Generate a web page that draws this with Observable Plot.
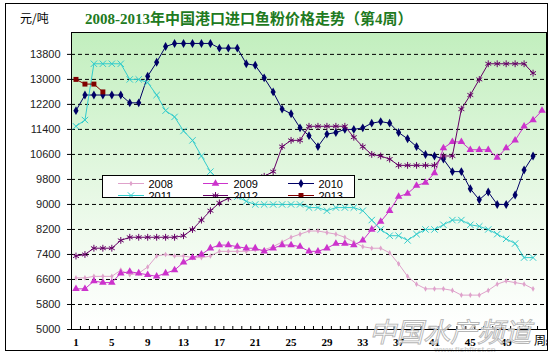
<!DOCTYPE html>
<html><head><meta charset="utf-8">
<script src="https://cdn.jsdelivr.net/npm/d3@7"></script>
<script src="https://cdn.jsdelivr.net/npm/@observablehq/plot@0.6"></script>
<style>
body{margin:0;background:#fff;}
#wrap{position:relative;width:551px;height:358px;overflow:hidden;font-family:"Liberation Sans",Arial,sans-serif;}
#outer{position:absolute;left:5px;top:3px;width:543px;height:348px;border:1px solid #000;pointer-events:none;box-sizing:border-box;}
#unit{position:absolute;left:20px;top:9px;font:12px "Noto Sans CJK SC",sans-serif;color:#000;}
#title{position:absolute;left:85px;top:7px;font:bold 15px "Liberation Serif","Noto Sans CJK SC",serif;color:#217a21;white-space:nowrap;}
#legend{position:absolute;left:102px;top:175px;}
#chart{position:absolute;left:0;top:0;}
</style></head><body>
<div id="wrap">
  <div id="chart"></div>
  <div id="unit">元/吨</div>
  <div id="title">2008-2013年中国港口进口鱼粉价格走势（第4周）</div>
  <svg id="legend" width="254" height="23"></svg>
  <div id="outer"></div>
</div>
<script>
// ---- data ----
const years = ["2008", "2009", "2010", "2011", "2012", "2013"];
const v2008 = [6650,6650,6700,6700,6700,6900,6750,6800,7000,7350,7400,7350,7350,7300,7300,7350,7500,7500,7500,7500,7550,7550,7650,7800,7950,8050,8150,8150,8100,8050,7950,7800,7650,7600,7600,7450,7100,6700,6450,6300,6300,6300,6250,6100,6100,6100,6250,6450,6550,6500,6450,6300];
const v2009 = [6300,6300,6550,6500,6500,6800,6850,6800,6750,6700,6800,6900,7150,7300,7400,7600,7700,7700,7650,7600,7600,7500,7600,7700,7700,7650,7500,7500,7600,7750,7750,7700,7850,8200,8450,8800,9250,9350,9600,9700,10000,10800,11000,11000,10750,10750,10750,10500,10800,11050,11500,11700,12000];
const v2010 = [12000,12500,12500,12500,12500,12500,12250,12250,13100,13550,14050,14150,14150,14150,14150,14150,14000,14000,14000,13500,13450,13050,12600,12050,11900,11450,11200,10850,11250,11300,11400,11400,11450,11600,11650,11600,11300,11100,10850,10600,10550,10450,10050,10050,9500,9150,9400,9000,9000,9300,10100,10550];
const v2011 = [11500,11700,13500,13500,13500,13500,13000,13000,12900,12500,12000,11800,11350,11050,10550,10050,9750,9450,9250,9100,9000,9000,9000,9000,9000,9000,8900,8900,8800,8900,8900,8900,8800,8500,8200,8000,8000,7850,8050,8200,8200,8350,8500,8500,8350,8300,8200,8050,7900,7750,7300,7300];
const v2012 = [7350,7400,7600,7600,7600,7850,7950,7950,7950,7950,7950,7950,8000,8200,8500,8800,9050,9200,9300,9500,9700,9900,10050,10850,11050,11050,11500,11500,11500,11500,11500,11150,10850,10600,10550,10450,10250,10250,10250,10250,10250,10550,10550,12050,12500,13000,13500,13500,13500,13500,13500,13200];
const v2013 = [13000,12850,12850,12600];
const yTickLabels = [5000,5800,6600,7400,8200,9000,9800,10600,11400,12200,13000,13800];
const xTickLabels = [1,5,9,13,17,21,25,29,33,37,41,45,49,53];

// ---- styles ----
const colors = ["#DFA2CB", "#CC33CC", "#000066", "#33CCCC", "#660066", "#800000"];
const symbols = ["diamond", "triangle", "diamond", "times", "asterisk", "square"];
const filled = [true, true, true, false, false, true];
const radii = [1.7, 2.8, 2.7, 3.0, 3.2, 2.8];

const series = [v2008, v2009, v2010, v2011, v2012, v2013];
const rows = [];
series.forEach((vals, i) => vals.forEach((v, j) => rows.push({year: years[i], week: j + 1, value: v})));

const marks = [
  Plot.frame({fill: "url(#plotbg)"}),
  Plot.ruleY(yTickLabels.slice(1), {stroke: "#000", strokeDasharray: "4,3", strokeWidth: 1}),
];
years.forEach((yr, i) => {
  const d = rows.filter(r => r.year === yr);
  marks.push(Plot.line(d, {x: "week", y: "value", stroke: colors[i], strokeWidth: 1}));
  marks.push(Plot.dot(d, filled[i]
    ? {x: "week", y: "value", symbol: () => symbols[i], fill: colors[i], stroke: "none", r: radii[i]}
    : {x: "week", y: "value", symbol: () => symbols[i], stroke: colors[i], fill: "none", r: radii[i], strokeWidth: 1}));
});
const boundaries = d3.range(0.5, 54, 1);
marks.push(
  Plot.frame({stroke: "#000"}),
  Plot.axisY({ticks: yTickLabels, tickSize: 4, tickPadding: 7, tickFormat: d => String(d), fontSize: 11, fill: "#222", label: null}),
  Plot.axisX({ticks: boundaries, tickSize: -3, tickFormat: () => "", label: null}),
  Plot.axisX({ticks: xTickLabels, tickSize: 0, tickPadding: 9, tickFormat: d => String(d), fontSize: 11, fontWeight: "bold", fontFamily: "Liberation Serif, serif", label: null})
);

const svg = Plot.plot({
  width: 551, height: 358,
  marginTop: 32, marginBottom: 29, marginLeft: 71, marginRight: 5,
  style: {fontFamily: "Liberation Sans, Arial, sans-serif", fontSize: "11px", background: "transparent", overflow: "visible"},
  x: {type: "linear", domain: [0.5, 53.5], label: null},
  y: {domain: [5000, 14500], label: null},
  symbol: {type: "identity"},
  marks
});
const defs = d3.select(svg).insert("defs", ":first-child");
const grad = defs.append("linearGradient").attr("id", "plotbg").attr("x1", 0).attr("y1", 0).attr("x2", 0).attr("y2", 1);
grad.append("stop").attr("offset", "0%").attr("stop-color", "#C2EFBE");
grad.append("stop").attr("offset", "65%").attr("stop-color", "#EEFAEC");
grad.append("stop").attr("offset", "100%").attr("stop-color", "#FFFFFF");

// watermark & axis unit
const s = d3.select(svg);
s.append("text").attr("x", 540).attr("y", 345).attr("text-anchor", "middle")
  .attr("font-family", "Noto Sans CJK SC").attr("font-size", 12)
  .attr("fill", "#000").attr("stroke", "#fff").attr("stroke-width", 3).attr("paint-order", "stroke").text("周");
s.append("text").attr("x", 450).attr("y", 342).attr("text-anchor", "middle")
  .attr("font-family", "Noto Sans CJK SC").attr("font-size", 27).attr("font-style", "italic")
  .attr("fill", "#fff").attr("fill-opacity", 0.75).attr("stroke", "#b5b5b5").attr("stroke-width", 0.9).text("中国水产频道");
s.append("text").attr("x", 465).attr("y", 352).attr("text-anchor", "middle")
  .attr("font-family", "Liberation Sans").attr("font-size", 8).attr("font-weight", "bold")
  .attr("fill", "#cfcfcf").text("www.fishfirst.cn");
document.getElementById("chart").appendChild(svg);

// ---- legend ----
const lg = d3.select("#legend");
lg.append("rect").attr("x", 0.5).attr("y", 0.5).attr("width", 252).attr("height", 22).attr("fill", "#fff").attr("stroke", "#000");
const cols = [[16, 42, 46.5], [101, 126, 131.5], [186, 212, 216.5]];
const symMap = {diamond: d3.symbolDiamond, triangle: d3.symbolTriangle, times: d3.symbolTimes, asterisk: d3.symbolAsterisk, square: d3.symbolSquare};
const clip = lg.append("g");
years.forEach((yr, i) => {
  const c = cols[i % 3], cy = i < 3 ? 8.5 : 20.5;
  clip.append("line").attr("x1", c[0]).attr("x2", c[1]).attr("y1", cy).attr("y2", cy).attr("stroke", colors[i]);
  const p = d3.symbol(symMap[symbols[i]], Math.PI * radii[i] * radii[i])();
  clip.append("path").attr("d", p).attr("transform", `translate(${(c[0] + c[1]) / 2},${cy})`)
    .attr("fill", filled[i] ? colors[i] : "none").attr("stroke", filled[i] ? "none" : colors[i]);
  clip.append("text").attr("x", c[2]).attr("y", cy + 4).attr("font-size", 11).attr("font-family", "Liberation Sans, Arial").text(yr);
});
lg.append("rect").attr("x", 0.5).attr("y", 0.5).attr("width", 252).attr("height", 22).attr("fill", "none").attr("stroke", "#000");
</script>
</body></html>
